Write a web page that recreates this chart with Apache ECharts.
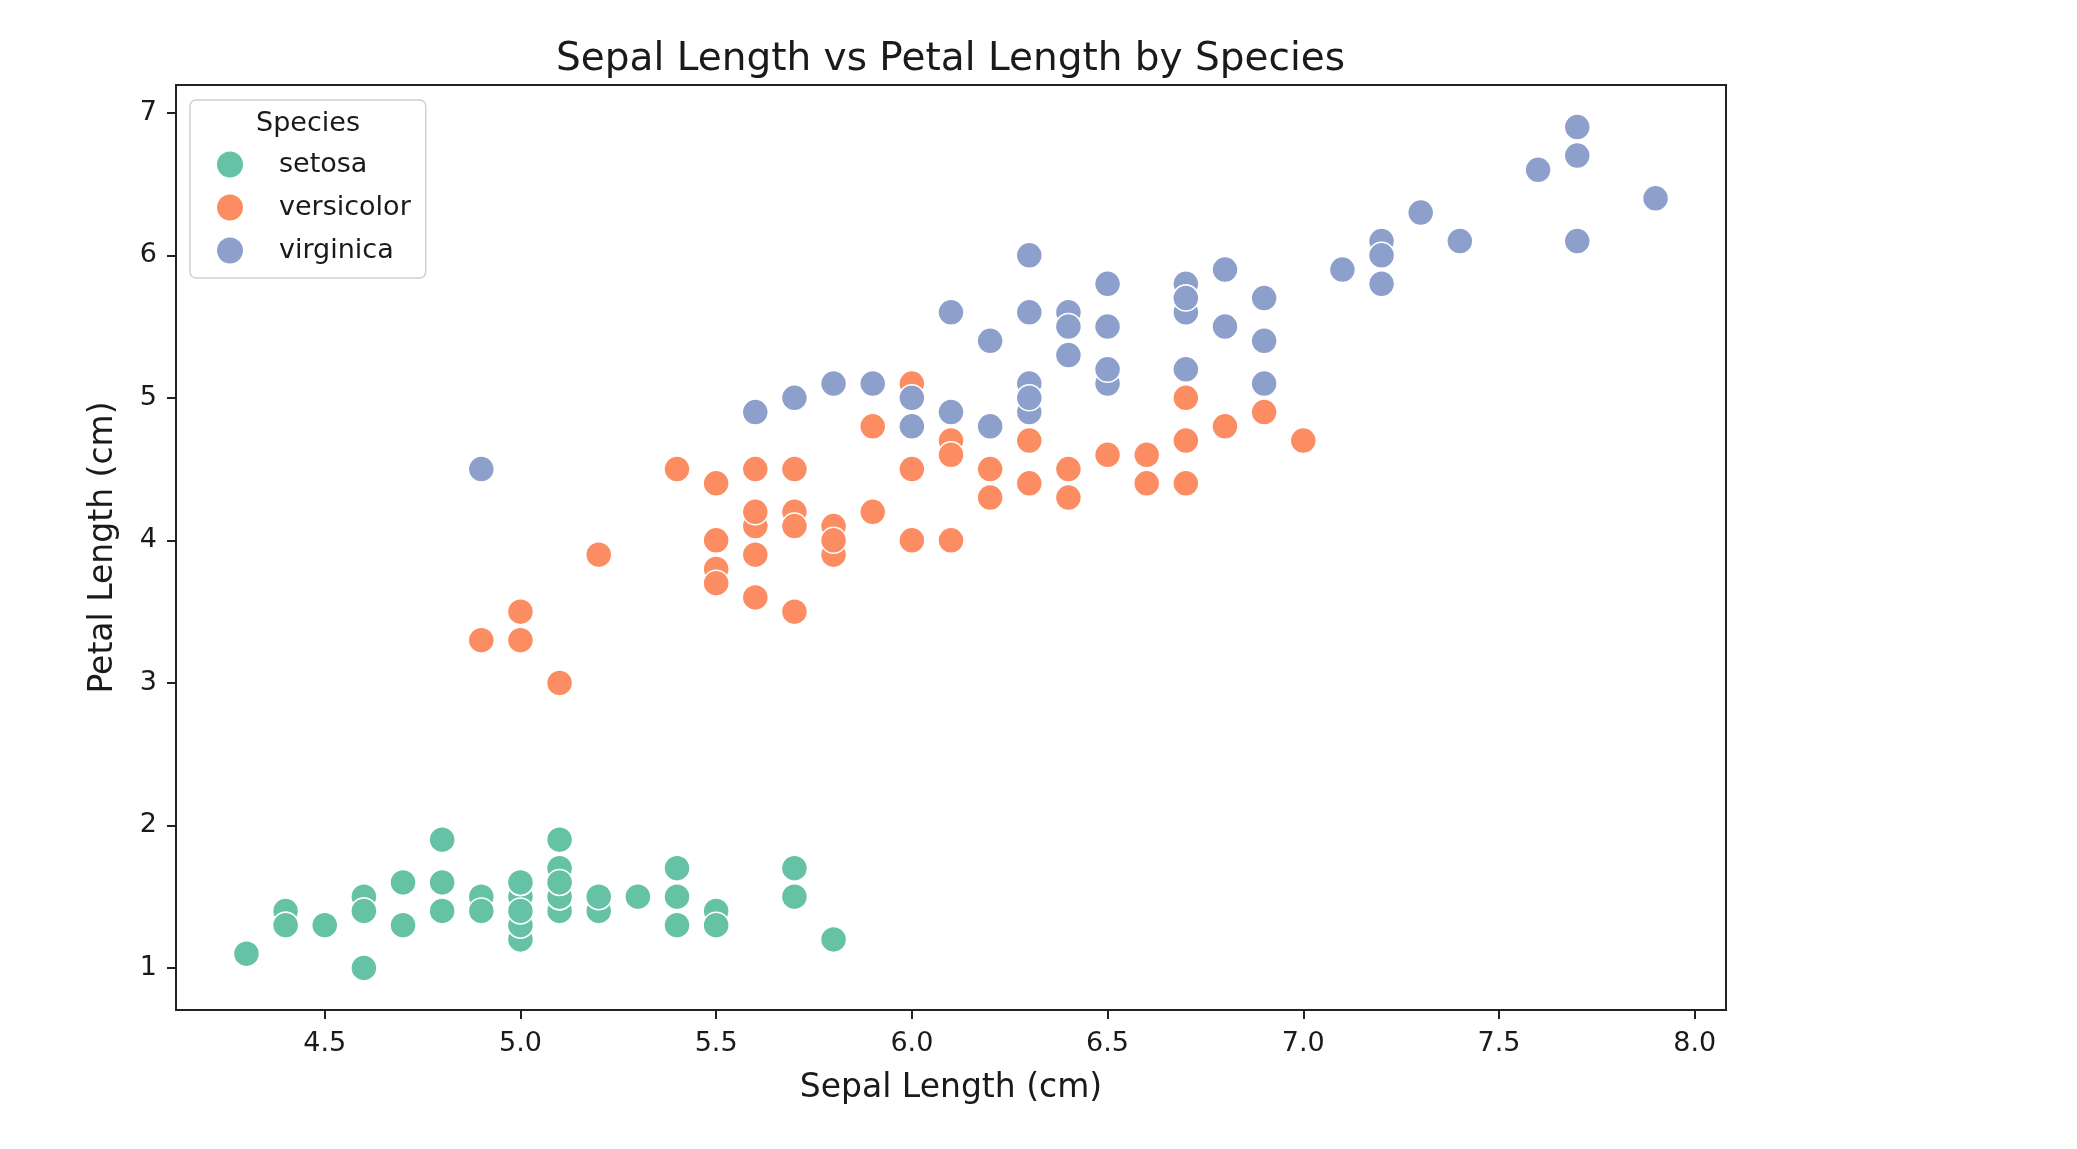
<!DOCTYPE html>
<html>
<head>
<meta charset="utf-8">
<title>Sepal Length vs Petal Length by Species</title>
<script src="https://cdn.jsdelivr.net/npm/echarts@6/dist/echarts.min.js"></script>
<style>
  html, body { margin: 0; padding: 0; background: #fff; }
  #chart { width: 2077px; height: 1149px; }
</style>
</head>
<body>
<div id="chart"></div>
<script>
// iris measurements, in row order
var setosaSepal = [5.1, 4.9, 4.7, 4.6, 5.0, 5.4, 4.6, 5.0, 4.4, 4.9, 5.4, 4.8, 4.8, 4.3, 5.8, 5.7, 5.4, 5.1, 5.7, 5.1,
                   5.4, 5.1, 4.6, 5.1, 4.8, 5.0, 5.0, 5.2, 5.2, 4.7, 4.8, 5.4, 5.2, 5.5, 4.9, 5.0, 5.5, 4.9, 4.4, 5.1,
                   5.0, 4.5, 4.4, 5.0, 5.1, 4.8, 5.1, 4.6, 5.3, 5.0];
var setosaPetal = [1.4, 1.4, 1.3, 1.5, 1.4, 1.7, 1.4, 1.5, 1.4, 1.5, 1.5, 1.6, 1.4, 1.1, 1.2, 1.5, 1.3, 1.4, 1.7, 1.5,
                   1.7, 1.5, 1.0, 1.7, 1.9, 1.6, 1.6, 1.5, 1.4, 1.6, 1.6, 1.5, 1.5, 1.4, 1.5, 1.2, 1.3, 1.4, 1.3, 1.5,
                   1.3, 1.3, 1.3, 1.6, 1.9, 1.4, 1.6, 1.4, 1.5, 1.4];
var versicolorSepal = [7.0, 6.4, 6.9, 5.5, 6.5, 5.7, 6.3, 4.9, 6.6, 5.2, 5.0, 5.9, 6.0, 6.1, 5.6, 6.7, 5.6, 5.8, 6.2, 5.6,
                       5.9, 6.1, 6.3, 6.1, 6.4, 6.6, 6.8, 6.7, 6.0, 5.7, 5.5, 5.5, 5.8, 6.0, 5.4, 6.0, 6.7, 6.3, 5.6, 5.5,
                       5.5, 6.1, 5.8, 5.0, 5.6, 5.7, 5.7, 6.2, 5.1, 5.7];
var versicolorPetal = [4.7, 4.5, 4.9, 4.0, 4.6, 4.5, 4.7, 3.3, 4.6, 3.9, 3.5, 4.2, 4.0, 4.7, 3.6, 4.4, 4.5, 4.1, 4.5, 3.9,
                       4.8, 4.0, 4.9, 4.7, 4.3, 4.4, 4.8, 5.0, 4.5, 3.5, 3.8, 3.7, 3.9, 5.1, 4.5, 4.5, 4.7, 4.4, 4.1, 4.0,
                       4.4, 4.6, 4.0, 3.3, 4.2, 4.2, 4.2, 4.3, 3.0, 4.1];
var virginicaSepal = [6.3, 5.8, 7.1, 6.3, 6.5, 7.6, 4.9, 7.3, 6.7, 7.2, 6.5, 6.4, 6.8, 5.7, 5.8, 6.4, 6.5, 7.7, 7.7, 6.0,
                      6.9, 5.6, 7.7, 6.3, 6.7, 7.2, 6.2, 6.1, 6.4, 7.2, 7.4, 7.9, 6.4, 6.3, 6.1, 7.7, 6.3, 6.4, 6.0, 6.9,
                      6.7, 6.9, 5.8, 6.8, 6.7, 6.7, 6.3, 6.5, 6.2, 5.9];
var virginicaPetal = [6.0, 5.1, 5.9, 5.6, 5.8, 6.6, 4.5, 6.3, 5.8, 6.1, 5.1, 5.3, 5.5, 5.0, 5.1, 5.3, 5.5, 6.7, 6.9, 5.0,
                      5.7, 4.9, 6.7, 4.9, 5.7, 6.0, 4.8, 4.9, 5.6, 5.8, 6.1, 6.4, 5.6, 5.1, 5.6, 6.1, 5.6, 5.5, 4.8, 5.4,
                      5.6, 5.1, 5.1, 5.9, 5.7, 5.2, 5.0, 5.2, 5.4, 5.1];

var species = ['setosa', 'versicolor', 'virginica'];
var xTicks = [4.5, 5.0, 5.5, 6.0, 6.5, 7.0, 7.5, 8.0];
var yTicks = [1, 2, 3, 4, 5, 6, 7];

var palette = ['#66c2a5', '#fc8d62', '#8da0cb'];
var font = 'DejaVu Sans';
var ink = '#1a1a1a';

function pairs(xs, ys) {
    return xs.map(function (x, i) { return [x, ys[i]]; });
}

function scatter(name, data, color) {
    return {
        name: name,
        type: 'scatter',
        data: data,
        symbol: 'circle',
        symbolSize: 26,
        itemStyle: { color: color, borderColor: '#fff', borderWidth: 1.5, opacity: 1 },
        emphasis: { disabled: true }
    };
}

var chart = echarts.init(document.getElementById('chart'));

var option = {
    animation: false,
    backgroundColor: '#fff',
    title: {
        text: 'Sepal Length vs Petal Length by Species',
        left: 556,
        top: 40,
        padding: 0,
        textStyle: { fontFamily: font, fontSize: 39, fontWeight: 'normal', color: ink }
    },
    grid: {
        left: 176,
        right: 351,
        top: 85,
        bottom: 139,
        show: true,
        borderColor: '#222',
        borderWidth: 2,
        backgroundColor: 'transparent'
    },
    legend: {
        data: species,
        orient: 'vertical',
        left: 190,
        top: 100,
        padding: [51, 15, 14, 27],
        itemWidth: 26,
        itemHeight: 26,
        itemGap: 16,
        icon: 'circle',
        itemStyle: { borderWidth: 0 },
        backgroundColor: 'rgba(255,255,255,0.8)',
        borderColor: '#d0d0d0',
        borderWidth: 1.5,
        borderRadius: 6,
        textStyle: { fontFamily: font, fontSize: 27, color: ink, lineHeight: 26, padding: [0, 0, 0, 31] }
    },
    graphic: [{
        type: 'text',
        z: 100,
        x: 308,
        y: 124,
        style: {
            text: 'Species',
            fill: ink,
            font: '27px "DejaVu Sans"',
            textAlign: 'center',
            textVerticalAlign: 'middle'
        }
    }],
    xAxis: {
        type: 'value',
        min: 4.12,
        max: 8.08,
        name: 'Sepal Length (cm)',
        nameLocation: 'middle',
        nameGap: 62,
        nameTextStyle: { fontFamily: font, fontSize: 33, color: ink },
        axisLine: { show: false },
        axisTick: { show: true, customValues: xTicks, length: 9, lineStyle: { color: '#222', width: 2 } },
        axisLabel: {
            customValues: xTicks,
            margin: 20,
            fontFamily: font,
            fontSize: 27,
            color: ink,
            formatter: function (v) { return v.toFixed(1); }
        },
        splitLine: { show: false }
    },
    yAxis: {
        type: 'value',
        min: 0.705,
        max: 7.195,
        name: 'Petal Length (cm)',
        nameLocation: 'middle',
        nameGap: 56,
        nameTextStyle: { fontFamily: font, fontSize: 33, color: ink },
        axisLine: { show: false },
        axisTick: { show: true, customValues: yTicks, length: 9, lineStyle: { color: '#222', width: 2 } },
        axisLabel: {
            customValues: yTicks,
            margin: 19,
            fontFamily: font,
            fontSize: 27,
            color: ink,
            formatter: function (v) { return String(Math.round(v)); }
        },
        splitLine: { show: false }
    },
    series: [
        scatter(species[0], pairs(setosaSepal, setosaPetal), palette[0]),
        scatter(species[1], pairs(versicolorSepal, versicolorPetal), palette[1]),
        scatter(species[2], pairs(virginicaSepal, virginicaPetal), palette[2])
    ]
};

chart.setOption(option);
</script>
</body>
</html>
